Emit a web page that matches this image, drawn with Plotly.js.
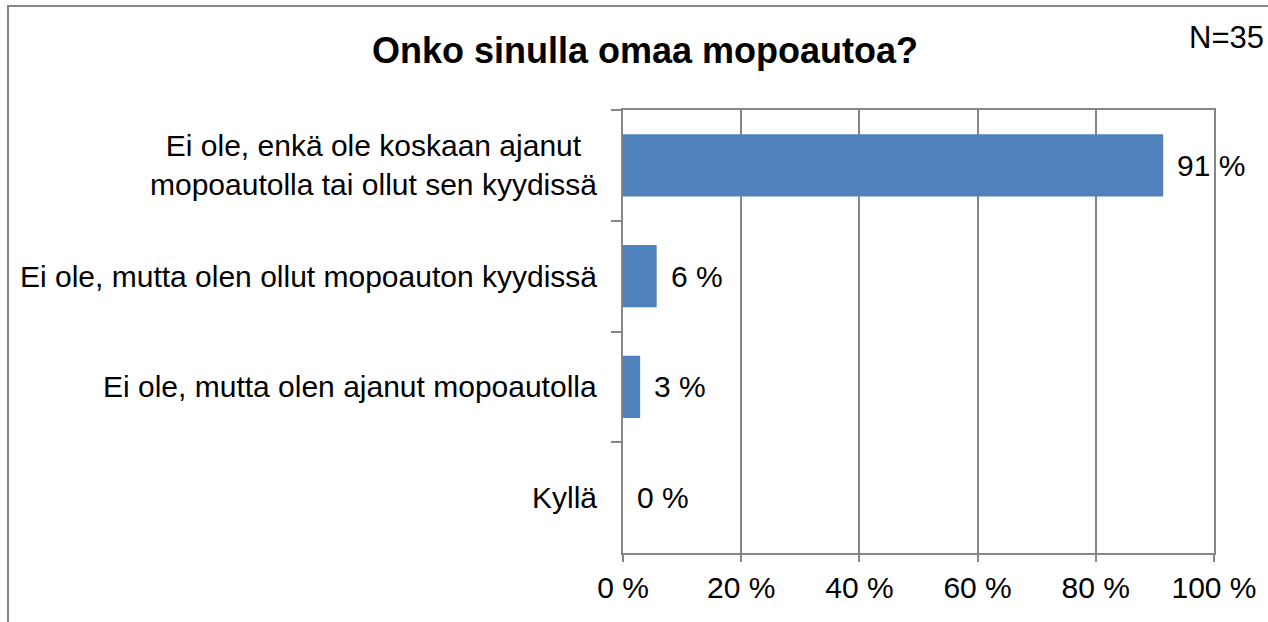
<!DOCTYPE html>
<html>
<head>
<meta charset="utf-8">
<script src="https://cdn.plot.ly/plotly-3.0.1.min.js"></script>
<style>
  html, body { margin: 0; padding: 0; background: #ffffff; }
  #chart { width: 1268px; height: 622px; }
</style>
</head>
<body>
<div id="chart"></div>
<script>
// ---- data ----
var categories = [
  "Ei ole, enkä ole koskaan ajanut<br>mopoautolla tai ollut sen kyydissä",
  "Ei ole, mutta olen ollut mopoauton kyydissä",
  "Ei ole, mutta olen ajanut mopoautolla",
  "Kyllä"
];
var values = [91.4, 5.7, 2.9, 0];
var chartTitle = "Onko sinulla omaa mopoautoa?";
var sampleNote = "N=35";
var xTickVals = [0, 20, 40, 60, 80, 100];
var xTickText = ["0 %", "20 %", "40 %", "60 %", "80 %", "100 %"];

// ---- styling ----
var FONT = "Liberation Sans, Arial, sans-serif";
var GRAY = "#868686";
var BLUE = "#4F81BD";
var L = 623, R = 1214, T = 110, B = 553;
var PW = R - L, PH = B - T;

var catIds = categories.map(function (c, i) { return "c" + i; });

var trace = {
  type: "bar",
  orientation: "h",
  x: values,
  y: catIds,
  marker: { color: BLUE, line: { width: 0 } },
  width: 0.56,
  hoverinfo: "skip"
};

var annotations = [];
categories.forEach(function (c, i) {
  annotations.push({
    xref: "paper", yref: "y",
    x: 0, y: catIds[i],
    xanchor: "right", yanchor: "middle",
    xshift: -24,
    align: "center",
    text: c,
    showarrow: false,
    font: { family: FONT, size: 30, color: "#000000" }
  });
});
values.forEach(function (v, i) {
  annotations.push({
    xref: "x", yref: "y",
    x: v, y: catIds[i],
    xanchor: "left", yanchor: "middle",
    xshift: 12,
    text: Math.round(v) + " %",
    showarrow: false,
    font: { family: FONT, size: 30, color: "#000000" }
  });
});
annotations.push({
  xref: "paper", yref: "paper",
  x: (1266 - L) / PW, y: (B - 37) / PH,
  xanchor: "right", yanchor: "middle",
  text: sampleNote,
  showarrow: false,
  font: { family: FONT, size: 31, color: "#000000" }
});

var layout = {
  width: 1268,
  height: 622,
  margin: { l: L, r: 1268 - R, t: T, b: 622 - B, pad: 0 },
  paper_bgcolor: "#ffffff",
  plot_bgcolor: "#ffffff",
  showlegend: false,
  title: {
    text: "<b>" + chartTitle + "</b>",
    xref: "container", yref: "container",
    x: 645 / 1268, y: 1 - 50 / 622,
    xanchor: "center", yanchor: "middle",
    font: { family: FONT, size: 36, color: "#000000" }
  },
  xaxis: {
    range: [0, 100],
    tickvals: xTickVals,
    ticktext: xTickText,
    ticks: "outside",
    ticklen: 7,
    tickwidth: 2,
    tickcolor: GRAY,
    showgrid: true,
    gridcolor: GRAY,
    gridwidth: 2,
    showline: true,
    linecolor: GRAY,
    linewidth: 2,
    mirror: true,
    zeroline: false,
    tickfont: { family: FONT, size: 30, color: "#000000" },
    fixedrange: true
  },
  yaxis: {
    type: "category",
    categoryorder: "array",
    categoryarray: catIds,
    autorange: "reversed",
    tickson: "boundaries",
    ticks: "outside",
    ticklen: 10,
    tickwidth: 2,
    tickcolor: GRAY,
    showticklabels: false,
    showgrid: false,
    showline: true,
    linecolor: GRAY,
    linewidth: 2,
    mirror: true,
    zeroline: false,
    fixedrange: true
  },
  annotations: annotations,
  shapes: [{
    type: "rect",
    xref: "paper", yref: "paper",
    x0: (8 - L) / PW, x1: (1290 - L) / PW,
    y0: (B - 640) / PH, y1: (B - 6) / PH,
    line: { color: GRAY, width: 2 },
    fillcolor: "rgba(0,0,0,0)",
    layer: "below"
  }]
};

Plotly.newPlot("chart", [trace], layout, { displayModeBar: false, staticPlot: true });
</script>
</body>
</html>
